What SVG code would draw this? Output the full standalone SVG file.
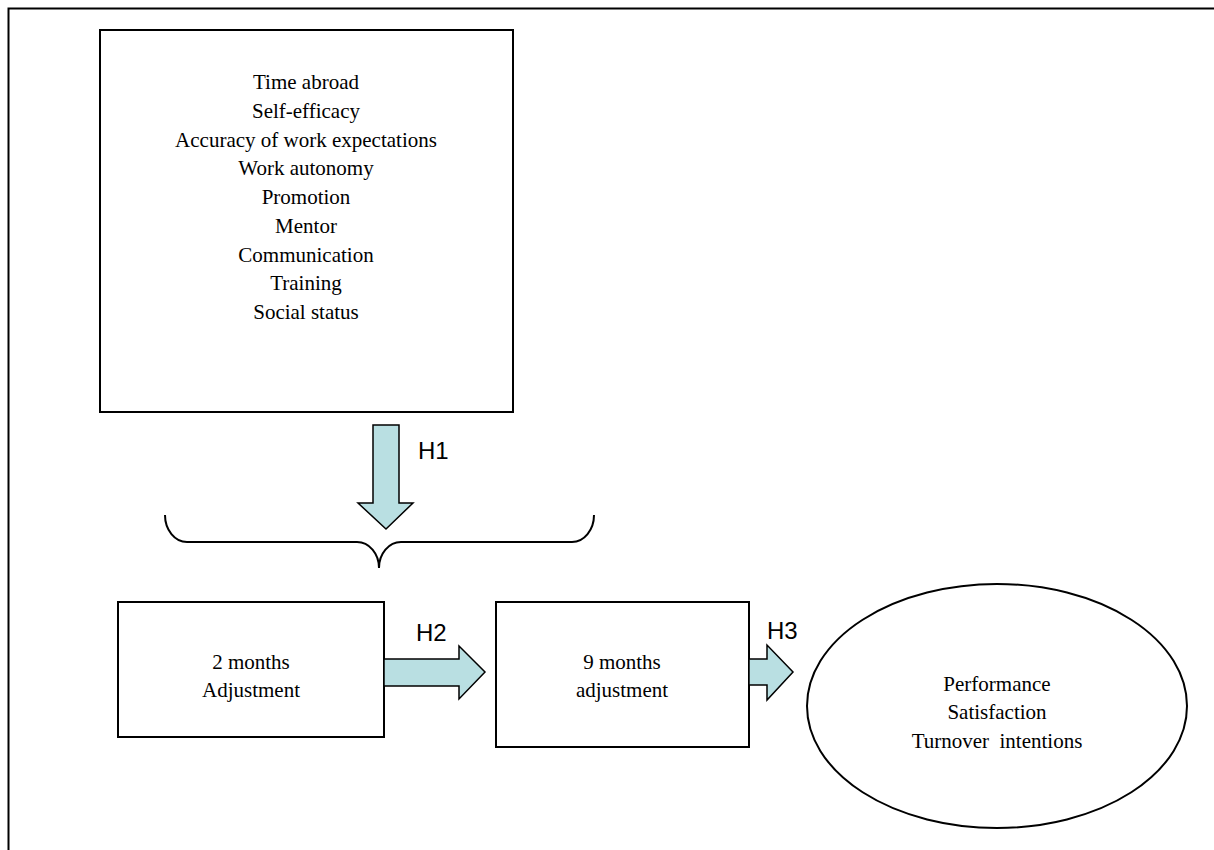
<svg xmlns="http://www.w3.org/2000/svg" width="1214" height="850" viewBox="0 0 1214 850">
<style>
.box{fill:#fff;stroke:#000;stroke-width:2}
.arr{fill:#b9dfe2;stroke:#000;stroke-width:1.5;stroke-linejoin:miter}
.t{font-family:"Liberation Serif",serif;font-size:21px;text-anchor:middle;fill:#000;white-space:pre}
.h{font-family:"Liberation Sans",sans-serif;font-size:24px;fill:#000}
</style>
<rect x="0" y="0" width="1214" height="850" fill="#fff"/>
<rect x="8.5" y="8.5" width="1230" height="900" fill="none" stroke="#000" stroke-width="2"/>
<g id="factors">
<rect class="box" x="100" y="30" width="413" height="382"/>
<text class="t" x="306" y="89">Time abroad</text>
<text class="t" x="306" y="117.75">Self-efficacy</text>
<text class="t" x="306" y="146.5">Accuracy of work expectations</text>
<text class="t" x="306" y="175.25">Work autonomy</text>
<text class="t" x="306" y="204">Promotion</text>
<text class="t" x="306" y="232.75">Mentor</text>
<text class="t" x="306" y="261.5">Communication</text>
<text class="t" x="306" y="290.25">Training</text>
<text class="t" x="306" y="319">Social status</text>
</g>
<g id="adj2">
<rect class="box" x="118" y="602" width="266" height="135"/>
<text class="t" x="251" y="669">2 months</text>
<text class="t" x="251" y="697">Adjustment</text>
</g>
<g id="adj9">
<rect class="box" x="496" y="602" width="253" height="145"/>
<text class="t" x="622" y="669">9 months</text>
<text class="t" x="622" y="697">adjustment</text>
</g>
<g id="outcomes">
<ellipse class="box" cx="997" cy="706" rx="190" ry="122"/>
<text class="t" x="997" y="691">Performance</text>
<text class="t" x="997" y="719">Satisfaction</text>
<text class="t" x="997" y="748" xml:space="preserve">Turnover  intentions</text>
</g>
<g id="connectors">
<polygon class="arr" points="373,425 399,425 399,503 413,503 386,529 358,503 373,503"/>
<path d="M165,515 A22,27 0 0 0 187,542 L357,542 A22,26 0 0 1 379,568 A22,26 0 0 1 401,542 L572,542 A22,27 0 0 0 594,515" fill="none" stroke="#000" stroke-width="2"/>
<polygon class="arr" points="384,659 459,659 459,646 485,672 459,699 459,686 384,686"/>
<polygon class="arr" points="749,659 767,659 767,645 793,672 767,700 767,685 749,685"/>
<text class="h" x="418" y="459">H1</text>
<text class="h" x="416" y="641">H2</text>
<text class="h" x="767" y="639">H3</text>
</g>
</svg>
